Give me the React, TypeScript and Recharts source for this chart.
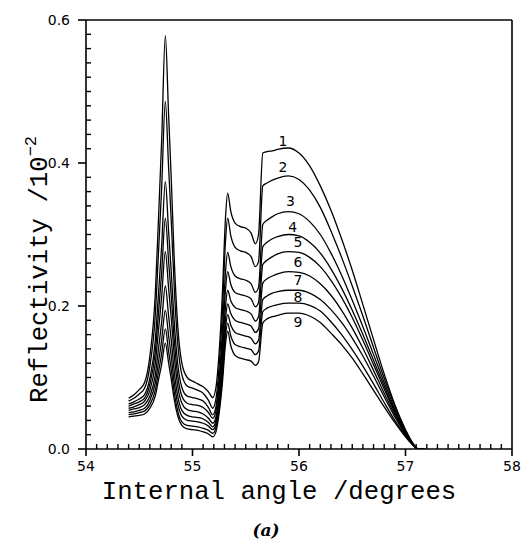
import React from 'react';
import { ComposedChart, Line, Scatter, XAxis, YAxis, ReferenceLine } from 'recharts';

const angles = [54.40, 54.45, 54.50, 54.55, 54.60, 54.65, 54.68, 54.71, 54.745, 54.775, 54.80, 54.83, 54.86, 54.90, 54.95, 55.00, 55.05, 55.10, 55.15, 55.19, 55.22, 55.25, 55.28, 55.31, 55.33, 55.36, 55.40, 55.45, 55.50, 55.55, 55.59, 55.62, 55.66, 55.70, 55.75, 55.80, 55.90, 56.00, 56.10, 56.20, 56.30, 56.40, 56.50, 56.60, 56.70, 56.80, 56.90, 57.00, 57.06, 57.12, 57.18];

const r1 = [.071, .076, .083, .093, .130, .215, .320, .430, .578, .470, .380, .260, .175, .120, .100, .095, .091, .087, .080, .072, .086, .135, .215, .324, .358, .332, .316, .311, .309, .302, .287, .300, .414, .416, .417, .419, .421, .414, .396, .368, .334, .294, .250, .202, .153, .105, .062, .027, .010, .000, .000];
const r2 = [.067, .071, .077, .085, .116, .186, .273, .364, .486, .396, .321, .221, .150, .104, .088, .085, .082, .078, .068, .057, .070, .116, .190, .291, .323, .298, .282, .277, .275, .269, .255, .262, .368, .372, .376, .379, .382, .377, .362, .338, .305, .268, .228, .186, .142, .099, .060, .026, .010, .000, .000];
const r3 = [.063, .066, .070, .076, .099, .151, .216, .283, .374, .306, .249, .174, .121, .086, .074, .072, .070, .067, .058, .048, .059, .098, .162, .248, .275, .255, .242, .238, .236, .231, .219, .226, .314, .320, .325, .329, .332, .329, .318, .300, .274, .243, .208, .171, .132, .093, .056, .024, .009, .000, .000];
const r4 = [.060, .063, .066, .071, .091, .135, .189, .246, .323, .264, .215, .150, .104, .074, .064, .062, .061, .058, .051, .043, .053, .088, .146, .223, .248, .230, .219, .216, .214, .210, .199, .205, .283, .289, .294, .297, .300, .298, .289, .274, .252, .225, .194, .160, .124, .088, .053, .023, .009, .000, .000];
const r5 = [.057, .059, .062, .067, .082, .119, .165, .212, .276, .226, .184, .129, .089, .064, .055, .053, .052, .049, .043, .036, .045, .077, .129, .200, .222, .207, .198, .195, .193, .189, .179, .185, .258, .264, .269, .273, .276, .275, .268, .255, .236, .212, .184, .152, .118, .084, .051, .022, .008, .000, .000];
const r6 = [.054, .056, .058, .062, .074, .103, .139, .177, .228, .187, .153, .107, .075, .054, .047, .045, .044, .042, .037, .031, .040, .069, .117, .182, .203, .189, .180, .177, .175, .172, .163, .168, .232, .238, .242, .245, .248, .247, .242, .231, .215, .194, .169, .141, .110, .078, .048, .021, .008, .000, .000];
const r7 = [.051, .052, .054, .057, .068, .092, .121, .152, .194, .159, .130, .091, .064, .046, .040, .039, .038, .036, .032, .027, .035, .062, .108, .169, .188, .173, .163, .160, .158, .155, .147, .152, .209, .214, .218, .220, .222, .222, .218, .209, .195, .177, .155, .130, .102, .073, .045, .020, .008, .000, .000];
const r8 = [.048, .049, .051, .053, .062, .082, .107, .133, .168, .137, .112, .078, .054, .038, .033, .032, .031, .029, .026, .022, .030, .056, .099, .158, .176, .158, .146, .143, .141, .139, .132, .137, .192, .197, .200, .202, .204, .204, .201, .193, .178, .160, .139, .116, .091, .065, .040, .018, .007, .000, .000];
const r9 = [.045, .046, .047, .049, .057, .074, .096, .118, .148, .121, .098, .068, .047, .033, .028, .027, .026, .024, .021, .017, .024, .050, .091, .147, .165, .144, .131, .127, .125, .123, .117, .122, .176, .182, .185, .187, .190, .190, .186, .177, .162, .146, .127, .105, .082, .059, .037, .017, .007, .000, .000];

const series = [r1, r2, r3, r4, r5, r6, r7, r8, r9];
const seriesKeys = ['r1', 'r2', 'r3', 'r4', 'r5', 'r6', 'r7', 'r8', 'r9'];

const curveLabels = ['1', '2', '3', '4', '5', '6', '7', '8', '9'];
const curveLabelAngles = [55.85, 55.85, 55.92, 55.94, 55.99, 55.99, 55.99, 55.99, 55.99];
const curveLabelValues = [0.431, 0.394, 0.347, 0.311, 0.290, 0.262, 0.236, 0.213, 0.178];

const xMajorTicks = [54, 55, 56, 57, 58];
const yMajorTicks = [0.0, 0.2, 0.4, 0.6];
const X_MIN = 54, X_MAX = 58, Y_MIN = 0, Y_MAX = 0.6;
const xMinorStep = 0.1;
const yMinorStep = 0.02;

const xTicks: number[] = [];
for (let i = 0; i <= 40; i++) xTicks.push(Math.round((X_MIN + i * xMinorStep) * 10) / 10);
const yTicks: number[] = [];
for (let i = 0; i <= 30; i++) yTicks.push(Math.round(i * yMinorStep * 100) / 100);

const table = angles.map((a, i) => {
  const row: Record<string, number> = { angle: a };
  seriesKeys.forEach((k, s) => { row[k] = series[s][i]; });
  return row;
});

const labelPoints = curveLabels.map((n, i) => ({ angle: curveLabelAngles[i], val: curveLabelValues[i], n }));

const isMajor = (v: number, majors: number[]) => majors.some((m) => Math.abs(m - v) < 1e-6);

const XTick = (props: any) => {
  const { x, y, payload } = props;
  const v = payload.value;
  const major = isMajor(v, xMajorTicks);
  return (
    <g>
      {major ? (
        <rect x={x - 0.8} y={y} width={1.6} height={7} fill="#000" />
      ) : (
        <rect x={x - 0.7} y={y - 5} width={1.4} height={5} fill="#000" />
      )}
      {major && (
        <text x={x} y={y + 22} textAnchor="middle" fontFamily="DejaVu Sans" fontSize={14} fill="#000" stroke="none">
          {String(v)}
        </text>
      )}
    </g>
  );
};

const YTick = (props: any) => {
  const { x, y, payload } = props;
  const v = payload.value;
  const major = isMajor(v, yMajorTicks);
  return (
    <g>
      {major ? (
        <rect x={x - 8} y={y - 0.8} width={8} height={1.6} fill="#000" />
      ) : (
        <rect x={x} y={y - 0.7} width={5} height={1.4} fill="#000" />
      )}
      {major && (
        <text x={x - 16} y={y + 5} textAnchor="end" fontFamily="DejaVu Sans" fontSize={14} fill="#000" stroke="none">
          {v.toFixed(1)}
        </text>
      )}
    </g>
  );
};

const XTitle = () => (
  <g>
    <text x={279} y={499} textAnchor="middle" fontFamily="Liberation Mono" fontSize={25.7} fill="#000">
      Internal angle /degrees
    </text>
    <text x={266} y={536} textAnchor="middle" fontFamily="DejaVu Serif" fontStyle="italic" fontWeight="bold" fontSize={17} fill="#000">
      (a)
    </text>
  </g>
);

const YTitle = () => (
  <text transform="translate(47,403) rotate(-90)" textAnchor="start" fontFamily="Liberation Mono" fontSize={25.7} fill="#000">
    Reflectivity /10
    <tspan dy={-11} fontSize={17}>−2</tspan>
  </text>
);

const LabelShape = (props: any) => {
  const { cx, cy, payload } = props;
  return (
    <text x={cx} y={cy + 5} textAnchor="middle" fontFamily="DejaVu Sans" fontSize={14} fill="#000">
      {payload.n}
    </text>
  );
};

export default function App() {
  return (
    <div style={{ position: 'absolute', left: 0, top: 0, background: '#fff' }}>
      <ComposedChart
        width={527}
        height={540}
        data={table}
        margin={{ top: 20, right: 15, bottom: 31, left: 26 }}
      >
        <XAxis
          type="number"
          dataKey="angle"
          domain={[X_MIN, X_MAX]}
          ticks={xTicks}
          interval={0}
          tickSize={0}
          tickMargin={0}
          tickLine={false}
          tick={<XTick />}
          axisLine={{ stroke: '#000', strokeWidth: 1.6 }}
          height={60}
          allowDataOverflow
          label={{ content: () => <XTitle /> }}
        />
        <YAxis
          type="number"
          domain={[Y_MIN, Y_MAX]}
          ticks={yTicks}
          interval={0}
          tickSize={0}
          tickMargin={0}
          tickLine={false}
          tick={<YTick />}
          axisLine={{ stroke: '#000', strokeWidth: 1.6 }}
          width={60}
          allowDataOverflow
          label={{ content: () => <YTitle /> }}
        />
        <ReferenceLine y={Y_MAX} stroke="#000" strokeWidth={1.6} />
        <ReferenceLine x={X_MAX} stroke="#000" strokeWidth={1.6} />
        {seriesKeys.map((k) => (
          <Line
            key={k}
            type="monotone"
            dataKey={k}
            stroke="#000"
            strokeWidth={1.3}
            dot={false}
            activeDot={false}
            isAnimationActive={false}
          />
        ))}
        <Scatter data={labelPoints} dataKey="val" shape={<LabelShape />} isAnimationActive={false} />
      </ComposedChart>
    </div>
  );
}
